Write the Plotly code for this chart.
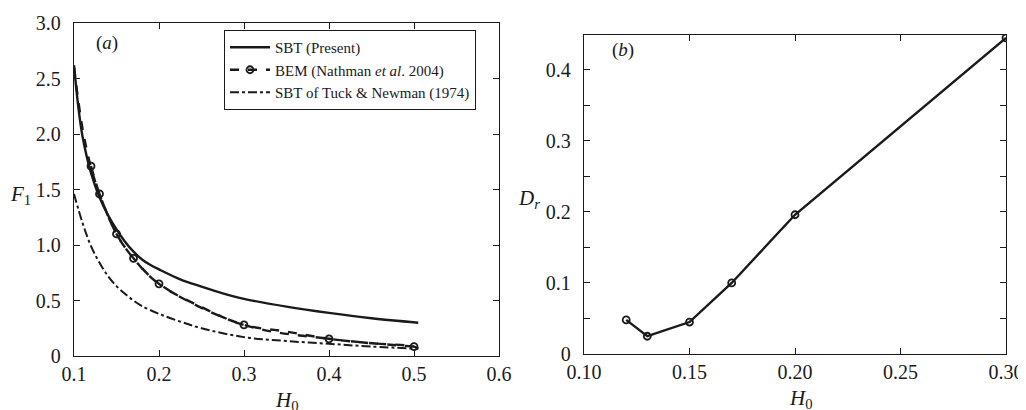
import plotly.graph_objects as go

# ---- Panel (a) data ----
sbt_h = [0.1, 0.105, 0.11, 0.12, 0.13, 0.14, 0.15, 0.16, 0.17, 0.18, 0.19, 0.2, 0.225, 0.25, 0.275, 0.3, 0.35, 0.4, 0.45, 0.505]
sbt_f = [2.62, 2.25, 1.98, 1.65, 1.43, 1.27, 1.14, 1.03, 0.94, 0.87, 0.82, 0.78, 0.69, 0.625, 0.565, 0.515, 0.445, 0.388, 0.34, 0.30]

bem_h = [0.12, 0.13, 0.15, 0.17, 0.2, 0.3, 0.4, 0.5]
bem_f = [1.71, 1.46, 1.10, 0.88, 0.65, 0.28, 0.155, 0.085]
bem_line_h = [0.1, 0.11, 0.12, 0.13, 0.15, 0.17, 0.2, 0.25, 0.3, 0.35, 0.4, 0.45, 0.5, 0.505]
bem_line_f = [2.6, 2.05, 1.70, 1.46, 1.10, 0.88, 0.65, 0.44, 0.28, 0.22, 0.155, 0.115, 0.085, 0.065]

tn_h = [0.1, 0.11, 0.12, 0.13, 0.14, 0.15, 0.16, 0.17, 0.18, 0.2, 0.225, 0.25, 0.3, 0.35, 0.4, 0.45, 0.505]
tn_f = [1.46, 1.20, 0.99, 0.84, 0.72, 0.63, 0.56, 0.50, 0.45, 0.38, 0.31, 0.25, 0.17, 0.135, 0.11, 0.085, 0.065]

# ---- Panel (b) data ----
dr_h = [0.12, 0.13, 0.15, 0.17, 0.20, 0.30]
dr_v = [0.048, 0.025, 0.045, 0.100, 0.196, 0.445]

xa_vals = [0.1, 0.2, 0.3, 0.4, 0.5, 0.6]
xa_text = ["0.1", "0.2", "0.3", "0.4", "0.5", "0.6"]
ya_vals = [0, 0.5, 1.0, 1.5, 2.0, 2.5, 3.0]
ya_text = ["0", "0.5", "1.0", "1.5", "2.0", "2.5", "3.0"]
xb_vals = [0.10, 0.15, 0.20, 0.25, 0.30]
xb_text = ["0.10", "0.15", "0.20", "0.25", "0.30"]
yb_vals = [0, 0.05, 0.1, 0.15, 0.2, 0.25, 0.3, 0.35, 0.4]
yb_text = ["0", "", "0.1", "", "0.2", "", "0.3", "", "0.4"]

FONT = "Liberation Serif"
INK = "#1a1a1a"
W, H = 1026, 410
OFF = 8  # page body margin


def fx(px):
    return (px - OFF) / W


def fy(py):
    return 1 - (py - OFF) / H


fig = go.Figure()

fig.add_trace(go.Scatter(x=sbt_h, y=sbt_f, mode="lines", name="SBT (Present)",
                         line=dict(color=INK, width=2.4, shape="spline"),
                         xaxis="x", yaxis="y"))
fig.add_trace(go.Scatter(x=bem_line_h, y=bem_line_f, mode="lines", showlegend=False,
                         line=dict(color=INK, width=2.4, dash="dash", shape="spline"),
                         xaxis="x", yaxis="y"))
fig.add_trace(go.Scatter(x=bem_h, y=bem_f, mode="lines+markers",
                         name="BEM (Nathman <i>et al</i>. 2004)",
                         line=dict(color=INK, width=2.4, dash="dash", shape="spline"),
                         marker=dict(symbol="circle-open", size=7, color=INK, line=dict(width=1.8, color=INK)),
                         xaxis="x", yaxis="y"))
fig.add_trace(go.Scatter(x=tn_h, y=tn_f, mode="lines", name="SBT of Tuck &amp; Newman (1974)",
                         line=dict(color=INK, width=2.0, dash="dashdot", shape="spline"),
                         xaxis="x", yaxis="y"))

fig.add_trace(go.Scatter(x=dr_h, y=dr_v, mode="lines+markers", showlegend=False,
                         line=dict(color=INK, width=2.4),
                         marker=dict(symbol="circle-open", size=7, color=INK, line=dict(width=1.8, color=INK)),
                         xaxis="x2", yaxis="y2"))

axis_common = dict(showgrid=False, zeroline=False, showline=True, mirror="allticks",
                   linecolor=INK, linewidth=1.3, ticks="inside", ticklen=6,
                   tickcolor=INK, tickwidth=1.2, automargin=False,
                   tickfont=dict(family=FONT, size=20, color=INK))

fig.update_layout(
    template="none",
    width=W, height=H,
    margin=dict(l=0, r=0, t=0, b=0, pad=0, autoexpand=False),
    paper_bgcolor="white", plot_bgcolor="white",
    font=dict(family=FONT, color=INK),
    xaxis=dict(domain=[fx(74), fx(499)], range=[0.1, 0.6], tickvals=xa_vals, ticktext=xa_text,
               anchor="y", ticklabelstandoff=0, **axis_common),
    yaxis=dict(domain=[fy(356), fy(23)], range=[0, 3.0], tickvals=ya_vals, ticktext=ya_text,
               anchor="x", ticklabelstandoff=8, **axis_common),
    xaxis2=dict(domain=[fx(584), fx(1006)], range=[0.1, 0.3], tickvals=xb_vals, ticktext=xb_text,
                anchor="y2", ticklabelstandoff=0, **axis_common),
    yaxis2=dict(domain=[fy(354), fy(35)], range=[0, 0.449], tickvals=yb_vals, ticktext=yb_text,
                anchor="x2", ticklabelstandoff=8, **axis_common),
    legend=dict(x=fx(224), y=fy(30), xanchor="left", yanchor="top",
                bordercolor=INK, borderwidth=1, bgcolor="white",
                font=dict(family=FONT, size=15, color=INK),
                tracegroupgap=0, itemwidth=40),
    showlegend=True,
)

annots = [
    dict(x=107, y=43, text="(<i>a</i>)", size=19),
    dict(x=623, y=50, text="(<i>b</i>)", size=19),
    dict(x=20, y=195, text="<i>F</i><sub>1</sub>", size=21),
    dict(x=287, y=401, text="<i>H</i><sub>0</sub>", size=21),
    dict(x=529, y=199, text="<i>D<sub>r</sub></i>", size=21),
    dict(x=801, y=399, text="<i>H</i><sub>0</sub>", size=21),
]
for a in annots:
    fig.add_annotation(x=fx(a["x"]), y=fy(a["y"]), xref="paper", yref="paper",
                       text=a["text"], showarrow=False, xanchor="center", yanchor="middle",
                       font=dict(family=FONT, size=a["size"], color=INK))

fig.write_html("out.html")
